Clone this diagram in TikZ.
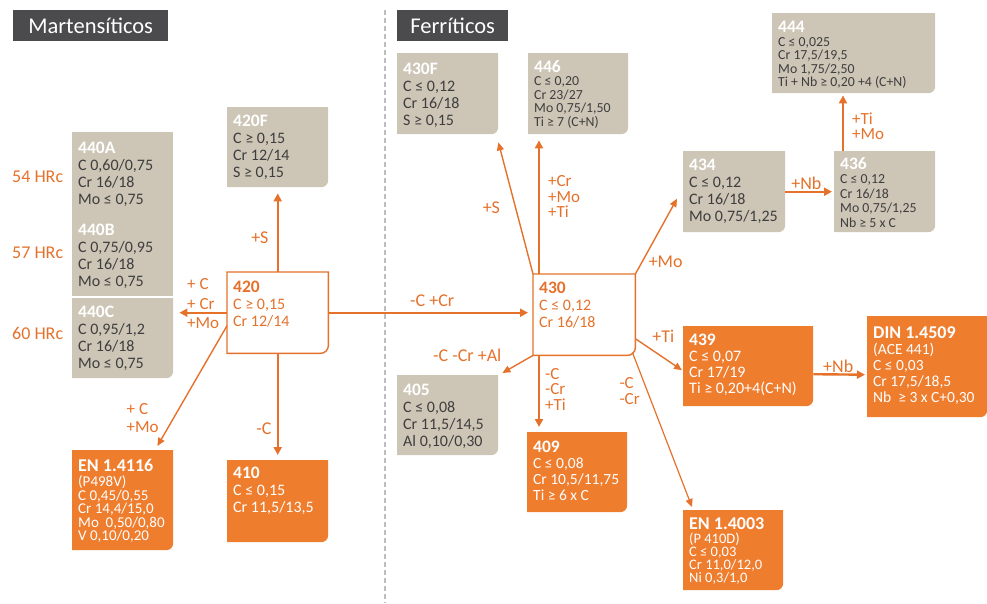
\documentclass[tikz,border=0pt]{standalone}
\usepackage{fontspec}
\setmainfont{Carlito}
\usetikzlibrary{arrows.meta}
\definecolor{beige}{HTML}{CDC5B6}
\definecolor{orangebox}{HTML}{EF7D2E}
\definecolor{orangeline}{HTML}{E5712B}
\definecolor{darktxt}{HTML}{3E3E3E}
\definecolor{headgray}{HTML}{4B4B4D}
\definecolor{dashgray}{HTML}{BEBEBE}
\newcommand{\tit}{\fontsize{17.5}{17}\selectfont\bfseries}
\newcommand{\bigtit}{\fontsize{18}{18}\selectfont\bfseries}

\tikzset{
  grade/.style n args={3}{anchor=north west,inner sep=0pt,
    execute at begin node={\begin{minipage}[c][#2pt][t]{#1pt}\raggedright\leftskip=6pt\vspace*{#3pt}},
    execute at end node={\end{minipage}}},
  body/.style={font=\fontsize{16}{17}\selectfont},
  small body/.style={font=\fontsize{13.8}{13.5}\selectfont},
  cornerfill/.style={path picture={\fill[#1] (path picture bounding box.north west)
    -- (path picture bounding box.north east) [rounded corners=7pt]
    -- (path picture bounding box.south east) [sharp corners]
    -- (path picture bounding box.south west) -- cycle;}},
  sand/.style={cornerfill=beige,text=darktxt},
  flame/.style={cornerfill=orangebox,text=white},
  whitebox/.style={text=orangeline},
  flow/.style={draw=orangeline,line width=2.4pt,-{Triangle[length=8pt,width=8pt]}},
  thinflow/.style={draw=orangeline,line width=1.4pt,-{Triangle[length=8pt,width=7pt]}},
  tag/.style={text=orangeline,font=\fontsize{18}{18}\selectfont,inner sep=2pt},
  stack/.style={tag,align=left,font=\fontsize{17}{#1}\selectfont},
  head/.style={anchor=north west,fill=headgray,text=white,
    font=\fontsize{22.5}{22}\selectfont,minimum height=31pt,inner sep=0pt},
}

\begin{document}
\begin{tikzpicture}[x=1pt,y=-1pt]
  \useasboundingbox (0,0) rectangle (987,603);

  % headers and divider
  \node[head,minimum width=155pt] (hmart) at (13,10) {Martensíticos};
  \node[head,minimum width=111pt] (hferr) at (397,10) {Ferríticos};
  \draw[dashgray,line width=1.2pt,dash pattern=on 5pt off 3pt] (385,10) -- (385,603);

  % martensitic side
  \node[grade={101}{82}{10},body,fill=beige,text=darktxt] (m440a) at (72,132)
    {{\tit\color{white}440A}\\ C 0,60/0,75\\ Cr 16/18\\ Mo ≤ 0,75};
  \node[grade={101}{82}{10},body,fill=beige,text=darktxt] (m440b) at (72,214)
    {{\tit\color{white}440B}\\ C 0,75/0,95\\ Cr 16/18\\ Mo ≤ 0,75};
  \node[grade={101}{80}{8},body,sand] (m440c) at (72,298)
    {{\tit\color{white}440C}\\ C 0,95/1,2\\ Cr 16/18\\ Mo ≤ 0,75};
  \node[tag,anchor=west] (hrc54) at (10,177) {54 HRc};
  \node[tag,anchor=west] (hrc57) at (10,253) {57 HRc};
  \node[tag,anchor=west] (hrc60) at (10,333) {60 HRc};

  \node[grade={101}{80}{8},body,sand] (m420f) at (227,107)
    {{\tit\color{white}420F}\\ C ≥ 0,15\\ Cr 12/14\\ S ≥ 0,15};
  \node[grade={101}{81}{9},body,whitebox] (m420) at (227,272)
    {{\tit 420}\\ C ≥ 0,15\\ Cr 12/14};
  \draw[orangeline,line width=1.4pt] (m420.north west) -- (m420.north east)
    [rounded corners=8pt] -- (m420.south east) [sharp corners] -- (m420.south west) -- cycle;
  \node[grade={101}{100}{9},flame,font=\fontsize{15}{13.5}\selectfont] (m4116) at (72,450)
    {{\bigtit EN 1.4116}\\[2pt] (P498V)\\ C 0,45/0,55\\ Cr 14,4/15,0\\ Mo~ 0,50/0,80\\ V 0,10/0,20};
  \node[grade={101}{82}{7},body,flame] (m410) at (227,460)
    {{\tit 410}\\ C ≤ 0,15\\ Cr 11,5/13,5};

  \draw[flow] (m420.north) -- node[tag,pos=.44,left=6pt] {+S} ([yshift=-6pt]m420f.south);
  \draw[flow] (m420.west) -- node[stack=19.5,pos=.5,yshift=9pt] {+ C\\+ Cr\\+Mo}
    ([xshift=6pt]m440c.east |- m420.west);
  \draw[thinflow] ([yshift=-13pt]m420.west) -- node[stack=18,pos=.77,left=12pt] {+ C\\+Mo}
    ([xshift=-16pt,yshift=4pt]m4116.north east);
  \draw[flow] (m420.south) -- node[tag,pos=.74,left=3pt] {-C} ([yshift=5pt]m410.north);

  % ferritic side
  \node[grade={101}{81}{10},body,sand] (f430f) at (397,53)
    {{\tit\color{white}430F}\\ C ≤ 0,12\\ Cr 16/18\\ S ≥ 0,15};
  \node[grade={100}{81}{7},small body,sand] (f446) at (528,53)
    {{\tit\color{white}446}\\ C ≤ 0,20\\ Cr 23/27\\ Mo 0,75/1,50\\ Ti ≥ 7 (C+N)};
  \node[grade={102}{81}{8},body,whitebox] (f430) at (533,274)
    {{\tit 430}\\ C ≤ 0,12\\ Cr 16/18};
  \draw[orangeline,line width=1.4pt] (f430.north west) -- (f430.north east)
    [rounded corners=8pt] -- (f430.south east) [sharp corners] -- (f430.south west) -- cycle;
  \node[grade={102}{81}{8},body,sand] (f434) at (683,151)
    {{\tit\color{white}434}\\ C ≤ 0,12\\ Cr 16/18\\ Mo 0,75/1,25};
  \node[grade={101}{81}{6},sand,font=\fontsize{13.8}{14.5}\selectfont] (f436) at (834,151)
    {{\tit\color{white}436}\\ C ≤ 0,12\\ Cr 16/18\\ Mo 0,75/1,25\\ Nb ≥ 5 x C};
  \node[grade={163}{80}{8},small body,sand] (f444) at (772,13)
    {{\tit\color{white}444}\\ C ≤ 0,025\\ Cr 17,5/19,5\\ Mo 1,75/2,50\\ Ti + Nb ≥ 0,20 +4 (C+N)};
  \node[grade={101}{80}{9},body,sand] (f405) at (397,375)
    {{\tit\color{white}405}\\ C ≤ 0,08\\ Cr 11,5/14,5\\ Al 0,10/0,30};
  \node[grade={100}{80}{9},flame,font=\fontsize{15.5}{16}\selectfont] (f409) at (527,432)
    {{\tit 409}\\ C ≤ 0,08\\ Cr 10,5/11,75\\ Ti ≥ 6 x C};
  \node[grade={130}{80}{8},flame,font=\fontsize{16}{16}\selectfont] (f439) at (683,326)
    {{\tit 439}\\ C ≤ 0,07\\ Cr 17/19\\ Ti ≥ 0,20+4(C+N)};
  \node[grade={120}{101}{10},flame,font=\fontsize{15.5}{16}\selectfont] (f4509) at (867,316)
    {{\bigtit DIN 1.4509}\\ (ACE 441)\\ C ≤ 0,03\\ Cr 17,5/18,5\\ Nb~ ≥ 3 x C+0,30};
  \node[grade={100}{80}{7},flame,font=\fontsize{14.5}{13}\selectfont] (f4003) at (683,510)
    {{\bigtit EN 1.4003}\\[1.5pt] (P 410D)\\ C ≤ 0,03\\ Cr 11,0/12,0\\ Ni 0,3/1,0};

  \draw[flow] (m420.east) -- node[tag,pos=.52,above=3pt] {-C +Cr} ([xshift=-5pt]f430.west |- m420.east);
  \draw[thinflow] (f430.north west) -- node[tag,pos=.5,left=13pt] {+S} ([yshift=-8pt]f430f.south east);
  \draw[flow] ([xshift=6pt]f430.north west) -- node[stack=15.5,pos=.58,right=6pt] {+Cr\\+Mo\\+Ti}
    ([xshift=11pt,yshift=-6pt]f446.south west);
  \draw[thinflow] (f430.north east) -- node[tag,pos=.16,right=4pt] {+Mo} ([xshift=-6pt,yshift=-7pt]f434.west);
  \draw[flow] (f434.east) -- node[tag,pos=.45,above=-1pt] {+Nb} ([xshift=-2pt]f436.west);
  \draw[flow] ([xshift=9pt]f436.north west) -- node[stack=15,pos=.45,right=6pt] {+Ti\\+Mo}
    ([xshift=71pt,yshift=-2pt]f444.south west);
  \draw[thinflow] (f430.south west) -- node[tag,pos=0,left=29pt] {-C -Cr +Al} ([xshift=4pt,yshift=2pt]f405.north east);
  \draw[flow] ([xshift=6pt]f430.south west) -- node[stack=15.5,pos=.47,right=3pt] {-C\\-Cr\\+Ti}
    ([xshift=12pt,yshift=5pt]f409.north west);
  \draw[thinflow] ([yshift=-24pt]f430.east) -- node[tag,pos=.6,above=12pt] {+Ti} ([xshift=-1pt,yshift=-4pt]f439.west);
  \draw[thinflow,line width=1.2pt] ([xshift=-3pt,yshift=3pt]f430.south east) -- node[stack=15.5,pos=.25,left=5pt] {-C\\-Cr}
    ([xshift=9pt,yshift=3pt]f4003.north west);
  \draw[flow] ([yshift=-8pt]f439.east) -- node[tag,pos=.48,above=-1pt] {+Nb} ([xshift=-2pt,yshift=-8pt]f4509.west);
\end{tikzpicture}
\end{document}
